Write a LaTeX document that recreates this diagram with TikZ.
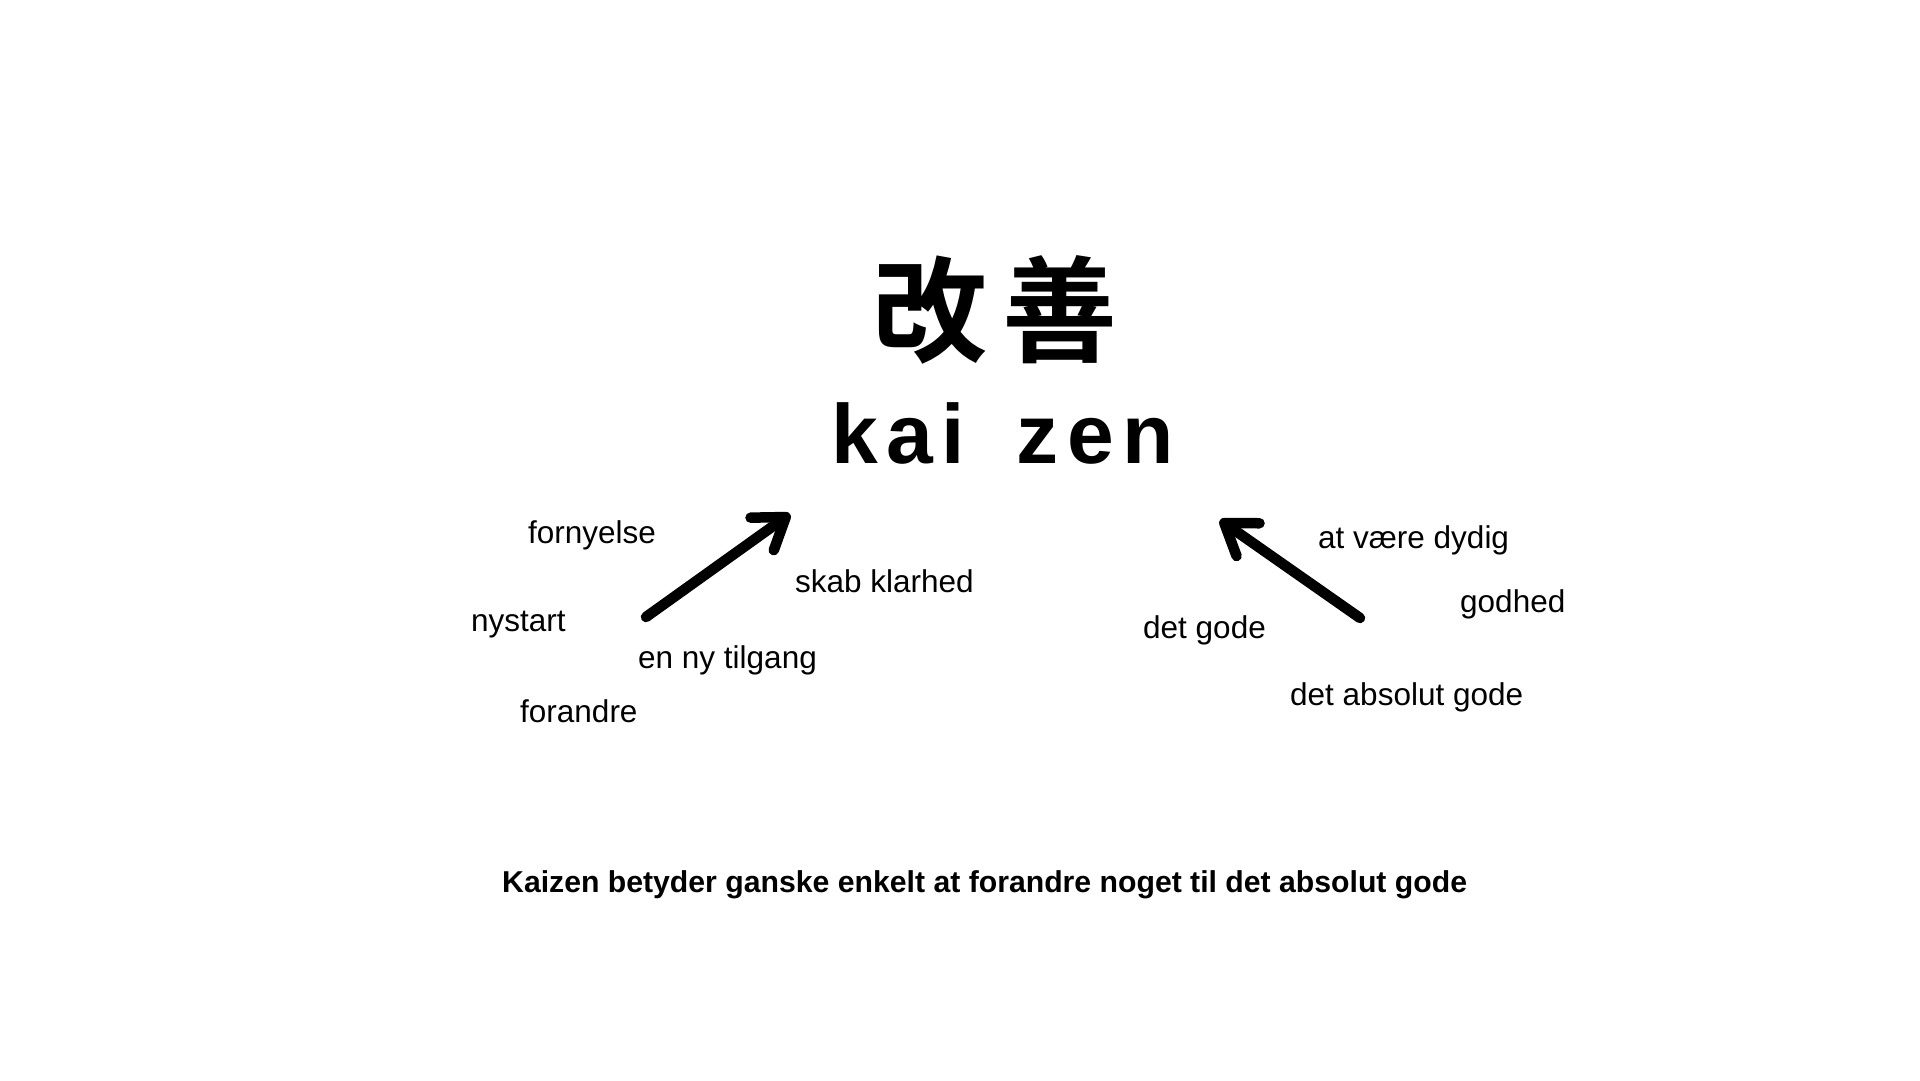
\documentclass[tikz,border=0pt]{standalone}
\usepackage{fontspec}
\setmainfont{Liberation Sans}
\newfontfamily\cjkfont{Noto Sans CJK JP Bold}
\newfontfamily\romajifont[LetterSpace=10]{Liberation Sans Bold}
\usetikzlibrary{arrows.meta}

\begin{document}
\begin{tikzpicture}[x=1pt, y=-1pt, inner sep=0pt,
    word/.style={anchor=base west, font=\fontsize{31.5}{36}\selectfont},
    pointer/.style={line width=10.5pt, line cap=round, -{Straight Barb[round, length=29pt, width=40pt]}}]
    \fill[white] (0,0) rectangle (1920,1080);
    \useasboundingbox (0,0) rectangle (1920,1080);

    \node (kanji) at (995,310) {\cjkfont\fontsize{115}{120}\selectfont 改\hspace{16pt}善};
    \node[anchor=base west] (romaji) at (831,463) {\romajifont\fontsize{84}{90}\selectfont kai\hspace{52pt}zen};

    % left group (kai)
    \node[word] (fornyelse) at (528,543) {fornyelse};
    \node[word] (nystart) at (471,631) {nystart};
    \node[word] (forandre) at (520,722) {forandre};
    \node[word] (tilgang) at (638,668) {en ny tilgang};
    \node[word] (klarhed) at (795,592) {skab klarhed};
    \coordinate (kai-tail) at (646,617);
    \coordinate (kai-tip) at (790,514);
    \draw[pointer] (kai-tail) -- (kai-tip);

    % right group (zen)
    \node[word] (dydig) at (1318,548) {at være dydig};
    \node[word] (godhed) at (1460,612) {godhed};
    \node[word] (detgode) at (1143,638) {det gode};
    \node[word] (absolut) at (1290,705) {det absolut gode};
    \coordinate (zen-tail) at (1360,618);
    \coordinate (zen-tip) at (1220,520);
    \draw[pointer] (zen-tail) -- (zen-tip);

    \node[anchor=base west, font=\bfseries\fontsize{30.2}{36}\selectfont] (summary) at (502,892)
        {Kaizen betyder ganske enkelt at forandre noget til det absolut gode};
\end{tikzpicture}
\end{document}
